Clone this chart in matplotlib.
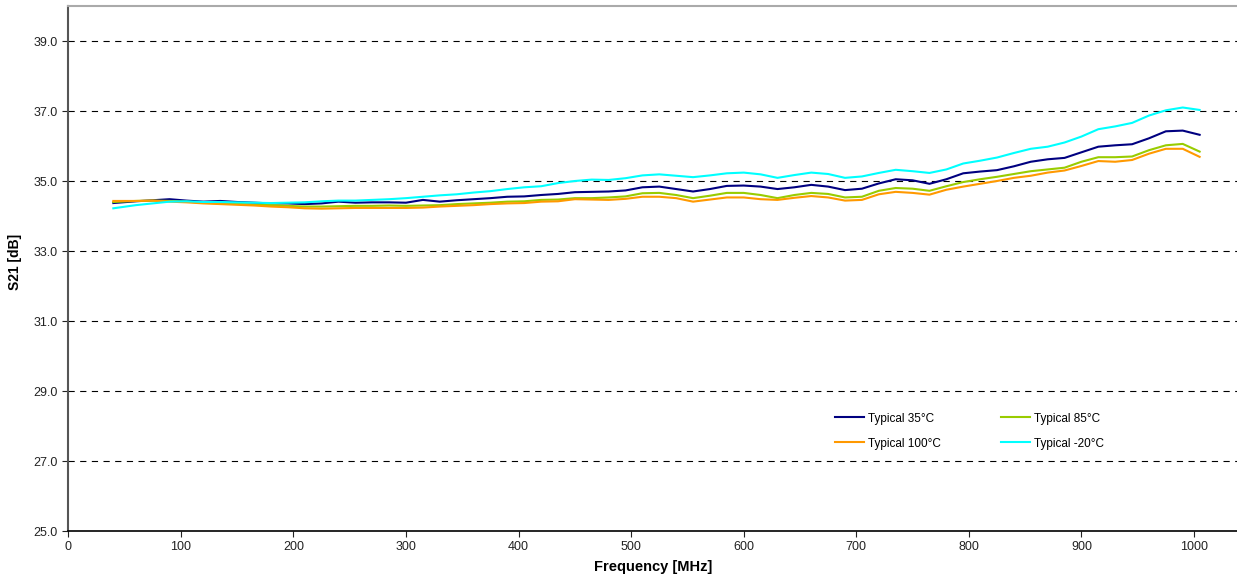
import matplotlib
matplotlib.use("Agg")
import matplotlib.pyplot as plt

plt.rcParams["font.family"] = ["Liberation Sans", "DejaVu Sans"]

freq = [40, 60, 75, 90, 105, 120, 135, 150, 165, 180, 195, 210, 225, 240, 255,
        270, 285, 300, 315, 330, 345, 360, 375, 390, 405, 420, 435, 450, 465, 480,
        495, 510, 525, 540, 555, 570, 585, 600, 615, 630, 645, 660, 675, 690, 705,
        720, 735, 750, 765, 780, 795, 810, 825, 840, 855, 870, 885, 900, 915, 930,
        945, 960, 975, 990, 1005]

s21_35 = [34.37, 34.42, 34.45, 34.48, 34.44, 34.41, 34.43, 34.40, 34.38, 34.36,
          34.36, 34.34, 34.36, 34.41, 34.38, 34.39, 34.39, 34.38, 34.46, 34.41,
          34.45, 34.48, 34.51, 34.55, 34.56, 34.60, 34.63, 34.68, 34.69, 34.70,
          34.73, 34.82, 34.84, 34.77, 34.70, 34.77, 34.86, 34.87, 34.84, 34.77,
          34.82, 34.89, 34.84, 34.74, 34.78, 34.93, 35.05, 35.02, 34.92, 35.05,
          35.22, 35.27, 35.31, 35.42, 35.55, 35.62, 35.66, 35.82, 35.98, 36.02,
          36.05, 36.22, 36.42, 36.44, 36.32]

s21_85 = [34.40, 34.43, 34.44, 34.43, 34.41, 34.38, 34.36, 34.35, 34.32, 34.31,
          34.29, 34.27, 34.27, 34.28, 34.29, 34.29, 34.30, 34.29, 34.30, 34.31,
          34.34, 34.36, 34.38, 34.41, 34.42, 34.46, 34.47, 34.51, 34.51, 34.53,
          34.56, 34.65, 34.66, 34.60, 34.51, 34.58, 34.66, 34.66, 34.60, 34.51,
          34.60, 34.66, 34.63, 34.53, 34.55, 34.72, 34.80, 34.78, 34.72, 34.85,
          34.97, 35.05, 35.12, 35.20, 35.28, 35.33, 35.38, 35.55, 35.68, 35.68,
          35.70, 35.88, 36.02, 36.06, 35.84]

s21_100 = [34.43, 34.43, 34.44, 34.41, 34.39, 34.36, 34.34, 34.32, 34.30, 34.27,
           34.25, 34.22, 34.21, 34.22, 34.23, 34.23, 34.23, 34.23, 34.24, 34.27,
           34.29, 34.31, 34.34, 34.36, 34.37, 34.41, 34.42, 34.48, 34.47, 34.46,
           34.49, 34.55, 34.55, 34.51, 34.41, 34.47, 34.53, 34.53, 34.48, 34.46,
           34.52, 34.57, 34.53, 34.44, 34.46, 34.62, 34.69, 34.66, 34.61, 34.75,
           34.84, 34.92, 35.00, 35.09, 35.15, 35.24, 35.30, 35.43, 35.57, 35.55,
           35.60, 35.78, 35.92, 35.92, 35.69]

s21_m20 = [34.22, 34.31, 34.36, 34.41, 34.42, 34.40, 34.40, 34.39, 34.38, 34.37,
           34.38, 34.39, 34.42, 34.44, 34.44, 34.46, 34.48, 34.51, 34.55, 34.59,
           34.62, 34.67, 34.71, 34.77, 34.82, 34.85, 34.94, 35.00, 35.04, 35.03,
           35.08, 35.16, 35.19, 35.15, 35.11, 35.16, 35.22, 35.24, 35.19, 35.09,
           35.17, 35.24, 35.20, 35.09, 35.13, 35.23, 35.32, 35.28, 35.23, 35.33,
           35.50, 35.58, 35.67, 35.80, 35.92, 35.98, 36.10, 36.27, 36.48, 36.56,
           36.66, 36.87, 37.02, 37.10, 37.03]

yticks = [25, 27, 29, 31, 33, 35, 37, 39]

L, B, H = 68.3, 48, 525
W = 1237 - L
BOTTOM_PX = 579 - B  # pixel row of the x axis, counted from the top

fig = plt.figure(figsize=(12.37, 5.79), dpi=100)
ax = fig.add_axes([L / 1237, B / 579, W / 1237, H / 579])

l35, = ax.plot(freq, s21_35, color="#000080", lw=1.5, label="Typical 35°C")
l85, = ax.plot(freq, s21_85, color="#99CC00", lw=1.5, label="Typical 85°C")
l100, = ax.plot(freq, s21_100, color="#FF9900", lw=1.5, label="Typical 100°C")
lm20, = ax.plot(freq, s21_m20, color="#00FFFF", lw=1.5, label="Typical -20°C")

ax.set_xlim(0, 1038.2)
ax.set_ylim(25, 40)
ax.set_xticks(range(0, 1001, 100))
ax.set_yticks(yticks)
ax.set_yticklabels([f"{v:.1f}" for v in yticks])
ax.tick_params(labelsize=9, length=4, width=0.8, colors="#222222", direction="out")

for y in yticks[1:]:
    ax.axhline(y, color="black", lw=0.8, dashes=(5.6, 4.9), zorder=0)

ax.spines["right"].set_visible(False)
ax.spines["top"].set_color("#aaaaaa")
ax.spines["top"].set_linewidth(1.5)
ax.spines["left"].set_color("#555555")
ax.spines["left"].set_linewidth(1.5)
ax.spines["bottom"].set_color("black")
ax.spines["bottom"].set_linewidth(1.2)

ax.set_xlabel("Frequency [MHz]", fontsize=10.5, fontweight="bold")
ax.set_ylabel("S21 [dB]", fontsize=10, fontweight="bold")
ax.xaxis.set_label_coords((653 - L) / W, (BOTTOM_PX - 560) / H)
ax.yaxis.set_label_coords((22 - L) / W, (BOTTOM_PX - 262) / H)

ax.legend(handles=[l35, l100, l85, lm20], ncol=2, frameon=False, fontsize=8.5,
          loc="upper left", bbox_to_anchor=((824 - L) / W, (BOTTOM_PX - 402) / H),
          handlelength=2.5, handletextpad=0.3, columnspacing=5.1, labelspacing=1.1)

fig.savefig("out.png", dpi=100)
